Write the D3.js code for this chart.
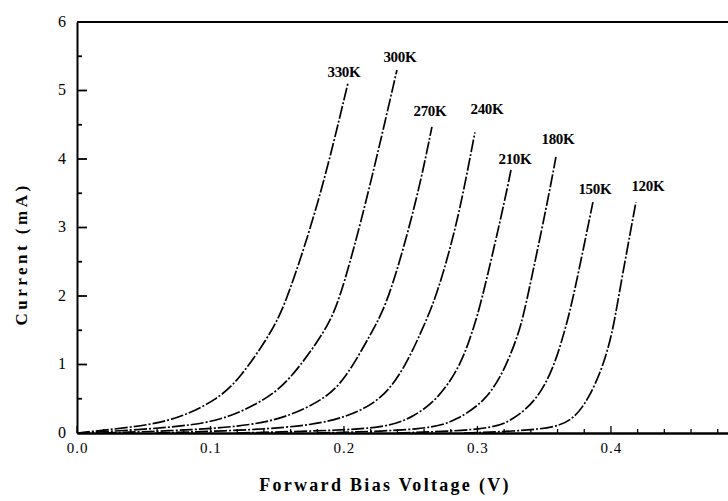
<!DOCTYPE html>
<html>
<head>
<meta charset="utf-8">
<script src="https://cdn.jsdelivr.net/npm/d3@7/dist/d3.min.js"></script>
<style>
  html, body { margin: 0; padding: 0; background: #fff; }
  svg { display: block; }
  text { font-family: "Liberation Serif", "Times New Roman", serif; fill: #000; }
</style>
</head>
<body>
<svg id="chart" width="728" height="501"></svg>
<script>
// ---- data ----
const temps = ["330K", "300K", "270K", "240K", "210K", "180K", "150K", "120K"];

const v330 = [0, 0.0217, 0.0547, 0.0787, 0.1041, 0.1213, 0.1468, 0.1573, 0.1820, 0.2030];
const i330 = [0, 0.044, 0.117, 0.234, 0.48, 0.77, 1.50, 1.94, 3.40, 5.11];

const v300 = [0, 0.0449, 0.0899, 0.1146, 0.1408, 0.1596, 0.1865, 0.1970, 0.2172, 0.2397];
const i300 = [0, 0.044, 0.117, 0.234, 0.48, 0.77, 1.50, 1.94, 3.40, 5.30];

const v270 = [0.02, 0.0899, 0.1318, 0.1573, 0.1843, 0.2007, 0.2217, 0.2337, 0.2547, 0.2659];
const i270 = [0, 0.044, 0.117, 0.234, 0.48, 0.77, 1.50, 1.94, 3.40, 4.47];

const v240 = [0.06, 0.1348, 0.1768, 0.2022, 0.2285, 0.2457, 0.2584, 0.2682, 0.2794, 0.2884, 0.2981];
const i240 = [0, 0.044, 0.117, 0.234, 0.48, 0.96, 1.50, 1.94, 2.67, 3.40, 4.39];

const v210 = [0.12, 0.2120, 0.2367, 0.2517, 0.2697, 0.2869, 0.2966, 0.3034, 0.3206, 0.3251];
const i210 = [0, 0.044, 0.117, 0.234, 0.48, 0.96, 1.50, 1.94, 3.40, 3.84];

const v180 = [0.18, 0.2644, 0.2846, 0.3071, 0.3213, 0.3318, 0.3371, 0.3528, 0.3588];
const i180 = [0, 0.044, 0.19, 0.48, 0.96, 1.50, 1.94, 3.40, 4.03];

const v150 = [0.24, 0.3094, 0.3266, 0.3446, 0.3573, 0.3655, 0.3715, 0.3865];
const i150 = [0, 0.044, 0.19, 0.48, 0.96, 1.50, 1.94, 3.37];

const v120 = [0.29, 0.3543, 0.3715, 0.3828, 0.3940, 0.4015, 0.4052, 0.4187];
const i120 = [0, 0.044, 0.19, 0.48, 0.96, 1.50, 1.94, 3.37];

// curve label anchor points (data units: V, mA)
const labelV = [0.2000, 0.2419, 0.2644, 0.3071, 0.3281, 0.3603, 0.3880, 0.4277];
const labelI = [5.27, 5.49, 4.70, 4.74, 4.01, 4.29, 3.56, 3.61];

const xTicks = [0, 0.1, 0.2, 0.3, 0.4];
const xTickLabels = ["0.0", "0.1", "0.2", "0.3", "0.4"];
const yTicks = [0, 1, 2, 3, 4, 5, 6];
const yTickLabels = ["0", "1", "2", "3", "4", "5", "6"];

const xTitle = "Forward Bias Voltage (V)";
const yTitle = "Current (mA)";

// ---- build ----
(function () {
const seriesV = [v330, v300, v270, v240, v210, v180, v150, v120];
const seriesI = [i330, i300, i270, i240, i210, i180, i150, i120];
const series = temps.map((t, k) => ({
  name: t,
  pts: seriesV[k].map((v, j) => [v, seriesI[k][j]]),
  lv: labelV[k], li: labelI[k]
}));

const svg = d3.select("#chart");
const mLeft = 77, mRight = 728, mTop = 22, mBottom = 433;
const xMax = 0.4877;

const x = d3.scaleLinear().domain([0, xMax]).range([mLeft, mRight]);
const y = d3.scaleLinear().domain([0, 6]).range([mBottom, mTop]);

// frame: top border
svg.append("line")
  .attr("x1", x(0)).attr("x2", x(xMax))
  .attr("y1", y(6)).attr("y2", y(6))
  .attr("stroke", "#000").attr("stroke-width", 2.2);

// curves
const line = d3.line()
  .x(d => x(d[0])).y(d => y(d[1]))
  .curve(d3.curveBasis);

svg.append("g").selectAll("path").data(series).join("path")
  .attr("d", d => line(d.pts))
  .attr("fill", "none")
  .attr("stroke", "#000")
  .attr("stroke-width", 1.7)
  .attr("stroke-dasharray", "13,2,2,2");

// x axis
const xAxis = d3.axisBottom(x).tickValues(xTicks).tickSize(0).tickFormat((d, i) => xTickLabels[i]);
const gx = svg.append("g").attr("transform", `translate(0,${mBottom})`).call(xAxis);
gx.select(".domain").attr("stroke", "#000").attr("stroke-width", 2.6);
gx.selectAll(".tick text")
  .attr("font-size", 15).attr("dy", "1.15em")
  .attr("letter-spacing", "1px")
  .style("font-family", "'Liberation Serif', serif");

// x minor / major inward ticks
const xMinor = d3.range(0, xMax, 0.02);
svg.append("g").selectAll("line").data(xMinor).join("line")
  .attr("x1", d => x(d)).attr("x2", d => x(d))
  .attr("y1", mBottom).attr("y2", d => (Math.abs(d * 10 - Math.round(d * 10)) < 1e-6 ? mBottom - 7 : mBottom - 4))
  .attr("stroke", "#000").attr("stroke-width", 1.3);

// y axis
const yAxis = d3.axisLeft(y).tickValues(yTicks).tickSize(0).tickFormat((d, i) => yTickLabels[i]);
const gy = svg.append("g").attr("transform", `translate(${mLeft},0)`).call(yAxis);
gy.select(".domain").attr("stroke", "#000").attr("stroke-width", 2);
gy.selectAll(".tick text")
  .attr("font-size", 16).attr("x", -11).attr("dy", "0.25em")
  .style("font-family", "'Liberation Serif', serif");

// y inward ticks
const yMinor = d3.range(0, 6.01, 0.5);
svg.append("g").selectAll("line").data(yMinor).join("line")
  .attr("x1", mLeft).attr("x2", d => (d % 1 === 0 ? mLeft + 10 : mLeft + 5))
  .attr("y1", d => y(d)).attr("y2", d => y(d))
  .attr("stroke", "#000").attr("stroke-width", 1.8);

// curve labels
svg.append("g").selectAll("text").data(series).join("text")
  .attr("x", d => x(d.lv)).attr("y", d => y(d.li))
  .attr("dy", "0.35em")
  .attr("text-anchor", "middle")
  .attr("font-size", 15).attr("font-weight", "bold")
  .attr("letter-spacing", "-0.3px")
  .text(d => d.name);

// axis titles
svg.append("text")
  .attr("x", 385).attr("y", 491)
  .attr("text-anchor", "middle")
  .attr("font-size", 18).attr("font-weight", "bold")
  .attr("letter-spacing", "2.3px")
  .text(xTitle);

svg.append("text")
  .attr("transform", "translate(27,254) rotate(-90)")
  .attr("text-anchor", "middle")
  .attr("font-size", 17).attr("font-weight", "bold")
  .attr("letter-spacing", "3.5px")
  .text(yTitle);
})();
</script>
</body>
</html>
